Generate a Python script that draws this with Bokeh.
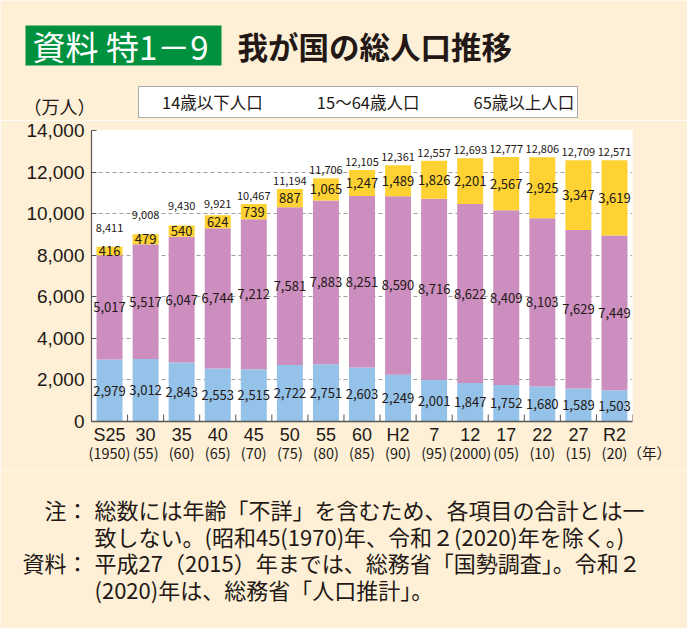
from bokeh.plotting import figure
from bokeh.models import (ColumnDataSource, FactorRange, Range1d, LabelSet,
                          FixedTicker, NumeralTickFormatter, CategoricalAxis)
from bokeh.transform import dodge
from bokeh.core.properties import value
from bokeh.embed import file_html
from bokeh.resources import INLINE

# ---------------- data ----------------
categories = ["S25", "30", "35", "40", "45", "50", "55", "60", "H2", "7", "12", "17", "22", "27", "R2"]
years = ["(1950)", "(55)", "(60)", "(65)", "(70)", "(75)", "(80)", "(85)", "(90)", "(95)",
         "(2000)", "(05)", "(10)", "(15)", "(20)"]
pop_0_14 = [2979, 3012, 2843, 2553, 2515, 2722, 2751, 2603, 2249, 2001, 1847, 1752, 1680, 1589, 1503]
pop_15_64 = [5017, 5517, 6047, 6744, 7212, 7581, 7883, 8251, 8590, 8716, 8622, 8409, 8103, 7629, 7449]
pop_65 = [416, 479, 540, 624, 739, 887, 1065, 1247, 1489, 1826, 2201, 2567, 2925, 3347, 3619]
totals = [8411, 9008, 9430, 9921, 10467, 11194, 11706, 12105, 12361, 12557, 12693, 12777, 12806, 12709, 12571]
series_names = ["14歳以下人口", "15～64歳人口", "65歳以上人口"]
y_ticks = [0, 2000, 4000, 6000, 8000, 10000, 12000, 14000]

title_tag = "資料 特1－9"
title_text = "我が国の総人口推移"
y_unit = "（万人）"
x_unit = "（年）"
note_prefixes = ["注：", "", "資料：", ""]
note_lines = [
    "総数には年齢「不詳」を含むため、各項目の合計とは一",
    "致しない。(昭和45(1970)年、令和２(2020)年を除く。)",
    "平成27（2015）年までは、総務省「国勢調査」。令和２",
    "(2020)年は、総務省「人口推計」。",
]

# ---------------- style ----------------
CREAM = "#FDF0D6"
GREEN = "#00913F"
DARK = "#231815"
AXIS = "#595757"
GRID = "#A0A0A0"
COLORS = ["#94C2E8", "#CC8EBE", "#FFD233"]
JP = "Noto Sans CJK JP"
NUM = "Liberation Sans"

W = 687
TOP_H, CHART_H, NOTES_H = 120, 350, 158
ML, MR, MT, MB = 91, 55, 10, 49


def base_fig(h):
    f = figure(width=W, height=h, x_range=Range1d(0, W), y_range=Range1d(h, 0),
               output_backend="svg", toolbar_location=None,
               x_axis_type=None, y_axis_type=None, min_border=0)
    f.background_fill_color = CREAM
    f.border_fill_color = CREAM
    f.outline_line_color = None
    return f


# ---------------- top: title + legend ----------------
pt = base_fig(TOP_H)
pt.quad(left=25, right=221, top=25, bottom=65, fill_color=GREEN, line_color=None)
pt.text(x=[32], y=[45], text=[title_tag], text_font=value(JP), text_font_size="33px",
        text_color="white", text_baseline="middle", text_align="left")
pt.text(x=[237], y=[45], text=[title_text], text_font=value(JP), text_font_size="30.5px",
        text_font_style="bold", text_color=DARK, text_baseline="middle", text_align="left")
pt.text(x=[23], y=[105], text=[y_unit], text_font=value(JP), text_font_size="18px",
        text_color=DARK, text_baseline="middle", text_align="left")
for name, col in zip(series_names, COLORS):
    pt.vbar(x=[], top=[], width=1, fill_color=col, line_color=None, legend_label=name)
leg = pt.legend[0]
leg.location = (138, 2)
leg.orientation = "horizontal"
leg.label_text_font = JP
leg.label_text_font_size = "16.5px"
leg.label_text_color = DARK
leg.glyph_width = 13
leg.glyph_height = 13
leg.label_standoff = 7
leg.spacing = 34
leg.padding = 3
leg.margin = 0
leg.label_height = 13
leg.border_line_color = AXIS
leg.border_line_width = 1
leg.background_fill_color = "white"
leg.background_fill_alpha = 1

# ---------------- chart ----------------
stack_top = [a + b + c for a, b, c in zip(pop_0_14, pop_15_64, pop_65)]
src = ColumnDataSource(dict(
    cat=categories,
    s0=pop_0_14, s1=pop_15_64, s2=pop_65,
    mid0=[a / 2 for a in pop_0_14],
    mid1=[a + b / 2 for a, b in zip(pop_0_14, pop_15_64)],
    mid2=[a + b + c / 2 for a, b, c in zip(pop_0_14, pop_15_64, pop_65)],
    lab0=[f"{v:,}" for v in pop_0_14],
    lab1=[f"{v:,}" for v in pop_15_64],
    lab2=[f"{v:,}" for v in pop_65],
    top=stack_top,
    tot=[f"{v:,}" for v in totals],
    toff=[19 if c < 600 else (11 if c < 700 else 8) for c in pop_65],
))

chart = figure(x_range=FactorRange(*categories), y_range=Range1d(0, y_ticks[-1]),
               width=W, height=CHART_H, output_backend="svg", toolbar_location=None,
               min_border_left=ML, min_border_right=MR, min_border_top=MT, min_border_bottom=MB)
chart.background_fill_color = "white"
chart.border_fill_color = CREAM
chart.outline_line_color = None

chart.vbar_stack(["s0", "s1", "s2"], x="cat", width=0.72, source=src,
                 fill_color=COLORS, line_color=None)

frame_h = CHART_H - MT - MB
tick_len = 7 * y_ticks[-1] / frame_h
chart.segment(x0=dodge("cat", 0.5, range=chart.x_range), y0=0,
              x1=dodge("cat", 0.5, range=chart.x_range), y1=tick_len,
              source=src, line_color=AXIS, line_width=1)

ya = chart.yaxis[0]
ya.ticker = FixedTicker(ticks=y_ticks)
ya.formatter = NumeralTickFormatter(format="0,0")
ya.major_label_text_font = NUM
ya.major_label_text_font_size = "19px"
ya.major_label_text_color = DARK
ya.axis_line_color = AXIS
ya.axis_line_width = 1.2
ya.major_tick_line_color = AXIS
ya.major_tick_in = 5
ya.major_tick_out = 0
ya.minor_tick_line_color = None
ya.major_label_standoff = 7

xa = chart.xaxis[0]
xa.major_label_text_font = NUM
xa.major_label_text_font_size = "18px"
xa.major_label_text_color = DARK
xa.axis_line_color = AXIS
xa.axis_line_width = 1.5
xa.major_tick_line_color = None
xa.major_tick_out = 0
xa.major_tick_in = 0
xa.major_label_standoff = 3

# second row of x labels (Western years); the unit follows the last one
year_factors = years[:-1] + ["\u3000" * len(x_unit) + years[-1] + x_unit]
chart.extra_x_ranges = {"yr": FactorRange(*year_factors)}
xa2 = CategoricalAxis(x_range_name="yr",
                      major_label_text_font=JP, major_label_text_font_size="14.5px",
                      major_label_text_color=DARK, axis_line_color=None,
                      major_tick_line_color=None, major_tick_in=0, major_tick_out=0,
                      major_label_standoff=-6)
chart.add_layout(xa2, "below")

chart.xgrid.grid_line_color = None
chart.ygrid.grid_line_color = GRID
chart.ygrid.grid_line_dash = "4 3"
chart.ygrid.grid_line_width = 1

for mid, lab in (("mid0", "lab0"), ("mid1", "lab1"), ("mid2", "lab2")):
    chart.add_layout(LabelSet(x="cat", y=mid, text=lab, source=src, text_align="center",
                              text_baseline="middle", text_font=value(JP),
                              text_font_size="13px", text_color=DARK))
chart.add_layout(LabelSet(x="cat", y="top", text="tot", source=src, y_offset="toff",
                          text_align="center", text_baseline="middle", text_font=value(JP),
                          text_font_size="11px", text_color=DARK))

# ---------------- notes ----------------
pn = base_fig(NOTES_H)
note_y = [38, 65, 91, 118]
pre_x, pre_y, pre_t = [], [], []
for pre, yy in zip(note_prefixes, note_y):
    if pre:
        pre_x.append(88)
        pre_y.append(yy)
        pre_t.append(pre)
pn.text(x=pre_x, y=pre_y, text=pre_t, text_font=value(JP), text_font_size="22px",
        text_color=DARK, text_baseline="middle", text_align="right")
pn.text(x=[94] * len(note_lines), y=note_y, text=note_lines, text_font=value(JP),
        text_font_size="22px", text_color=DARK, text_baseline="middle", text_align="left")

p = [pt, chart, pn]
open("out.html", "w").write(file_html(p, INLINE))
